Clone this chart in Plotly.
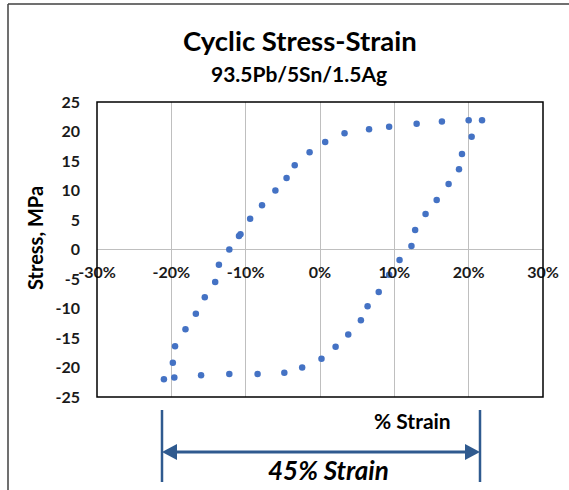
import plotly.graph_objects as go

# Hysteresis loop: cyclic stress vs strain
strain_pct = [21.8, 20.4, 19.1, 18.7, 17.3, 15.7, 14.2, 12.8, 12.3, 10.7, 9.3, 7.9, 6.4, 5.5,
              3.8, 2.1, 0.2, -2.4, -4.8, -8.4, -12.2, -16.0, -19.6, -21.0,
              -19.8, -19.5, -18.1, -16.7, -15.5, -14.1, -13.6, -12.2, -10.9, -10.7,
              -9.4, -7.8, -6.0, -4.5, -3.4, -1.4, 0.7, 3.3, 6.6, 9.3, 13.0, 16.4, 20.0]
stress_mpa = [21.9, 19.1, 16.2, 13.6, 11.1, 8.4, 6.0, 3.3, 0.6, -1.8, -4.3, -7.2, -9.6, -12.0,
              -14.4, -16.5, -18.5, -20.0, -20.9, -21.1, -21.1, -21.3, -21.7, -22.0,
              -19.2, -16.4, -13.5, -10.9, -8.1, -5.5, -2.6, 0.0, 2.3, 2.6,
              5.2, 7.5, 10.0, 12.1, 14.3, 16.5, 18.2, 19.7, 20.4, 20.8, 21.3, 21.7, 21.9]

x_tickvals = [-30, -20, -10, 0, 10, 20, 30]
x_ticktext = ["-30%", "-20%", "-10%", "0%", "10%", "20%", "30%"]
y_tickvals = [-25, -20, -15, -10, -5, 0, 5, 10, 15, 20, 25]
y_ticktext = ["-25", "-20", "-15", "-10", "-5", "0", "5", "10", "15", "20", "25"]

W, H = 569, 490
L, R, T, B = 97, 543, 102, 397  # plot area in pixels
FONT = "Lato"
BLUE = "#4472C4"
NAVY = "#2F5A8F"


def xp(px):
    return (px - L) / (R - L)


def yp(py):
    return (B - py) / (B - T)


def xd(px):
    return -30 + (px - L) / (R - L) * 60


def bold(labels):
    return [f"<b>{s}</b>" for s in labels]


fig = go.Figure()
fig.add_trace(go.Scatter(
    x=strain_pct, y=stress_mpa, mode="markers",
    marker=dict(color=BLUE, size=6.5, line=dict(width=0)),
    hoverinfo="x+y", showlegend=False,
))

fig.update_layout(
    width=W, height=H,
    margin=dict(l=L, r=W - R, t=T, b=H - B, pad=0, autoexpand=False),
    paper_bgcolor="white", plot_bgcolor="white",
    font=dict(family=FONT, color="black"),
    xaxis=dict(
        range=[-30, 30], tickvals=x_tickvals, ticktext=bold(x_ticktext),
        showgrid=True, gridcolor="#BFBFBF", gridwidth=1.3,
        zeroline=False, showline=False, ticks="", automargin=False,
        anchor="free", position=yp(249.5), ticklabelstandoff=11,
        tickfont=dict(family=FONT, size=16, color="#1a1a1a"),
        fixedrange=True,
    ),
    yaxis=dict(
        range=[-25, 25], tickvals=y_tickvals, ticktext=bold(y_ticktext),
        showgrid=False, zeroline=True, zerolinecolor="#BFBFBF", zerolinewidth=1.3,
        showline=False, ticks="", ticklabelstandoff=16, automargin=False,
        tickfont=dict(family=FONT, size=16, color="#1a1a1a"),
        fixedrange=True,
    ),
)

shapes = [
    # plot area frame
    dict(type="rect", xref="paper", yref="paper", x0=0, x1=1, y0=0, y1=1,
         line=dict(color="black", width=1.5), layer="above"),
    # chart frame (left and top edges)
    dict(type="line", xref="paper", yref="paper", x0=xp(8), x1=xp(8), y0=yp(4), y1=yp(495),
         line=dict(color="#404040", width=1.5)),
    dict(type="line", xref="paper", yref="paper", x0=xp(8), x1=xp(575), y0=yp(4), y1=yp(4),
         line=dict(color="#404040", width=1.5)),
]

# dimension bracket spanning the strain range
xl, xr = xd(162), xd(480)
head = 15 / (R - L) * 60
half = 8 / (B - T)
ya = yp(452)
shapes += [
    dict(type="line", xref="x", yref="paper", x0=xl, x1=xl, y0=yp(410), y1=yp(482),
         line=dict(color=NAVY, width=2.5)),
    dict(type="line", xref="x", yref="paper", x0=xr, x1=xr, y0=yp(410), y1=yp(482),
         line=dict(color=NAVY, width=2.5)),
    dict(type="line", xref="x", yref="paper", x0=xl + head * 0.8, x1=xr - head * 0.8, y0=ya, y1=ya,
         line=dict(color=NAVY, width=2.8)),
    dict(type="path", xref="x", yref="paper",
         path=f"M {xl} {ya} L {xl + head} {ya + half} L {xl + head} {ya - half} Z",
         fillcolor=NAVY, line=dict(color=NAVY, width=0)),
    dict(type="path", xref="x", yref="paper",
         path=f"M {xr} {ya} L {xr - head} {ya + half} L {xr - head} {ya - half} Z",
         fillcolor=NAVY, line=dict(color=NAVY, width=0)),
]
fig.update_layout(shapes=shapes)

annotations = [
    dict(text="<b>Cyclic Stress-Strain</b>", x=xp(300), y=yp(41), font=dict(size=27.5)),
    dict(text="<b>93.5Pb/5Sn/1.5Ag</b>", x=xp(299), y=yp(73), font=dict(size=21)),
    dict(text="<b>Stress, MPa</b>", x=xp(35), y=yp(238), textangle=-90, font=dict(size=20)),
    dict(text="<b>% Strain</b>", x=xp(412), y=yp(420), font=dict(size=21)),
    dict(text="<b><i>45% Strain</i></b>", x=xp(328), y=yp(470), font=dict(size=26)),
]
for a in annotations:
    a.update(xref="paper", yref="paper", showarrow=False, xanchor="center", yanchor="middle")
    a["font"].update(family=FONT, color="black")
fig.update_layout(annotations=annotations)

fig.write_html("out.html")
